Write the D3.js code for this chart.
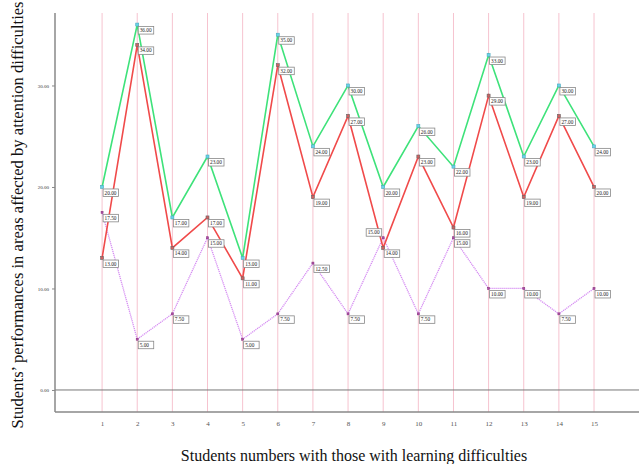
<!DOCTYPE html>
<html>
<head>
<meta charset="utf-8">
<script src="https://cdn.jsdelivr.net/npm/d3@7"></script>
<style>
  body { margin: 0; background: #fff; }
  svg { display: block; }
</style>
</head>
<body>
<svg id="chart" width="639" height="464"></svg>
<script>
// data
var students = [1, 2, 3, 4, 5, 6, 7, 8, 9, 10, 11, 12, 13, 14, 15];
var greenVals = [20, 36, 17, 23, 13, 35, 24, 30, 20, 26, 22, 33, 23, 30, 24];
var redVals = [13, 34, 14, 17, 11, 32, 19, 27, 14, 23, 16, 29, 19, 27, 20];
var purpleVals = [17.5, 5, 7.5, 15, 5, 7.5, 12.5, 7.5, 15, 7.5, 15, 10, 10, 7.5, 10];
var yTicks = [0, 10, 20, 30];

var svg = d3.select("#chart");

// scales
var x = d3.scaleLinear().domain([-0.34, 16.28]).range([55, 639]);
var y = d3.scaleLinear().domain([-2.17, 37.14]).range([412, 13]);

// pink vertical grid lines at each student
svg.append("g")
  .selectAll("line")
  .data(students)
  .enter()
  .append("line")
  .attr("x1", function(d) { return x(d); })
  .attr("x2", function(d) { return x(d); })
  .attr("y1", y.range()[1])
  .attr("y2", y.range()[0])
  .attr("stroke", "#f6c3cf")
  .attr("stroke-width", 1);

// zero reference line
svg.append("line")
  .attr("x1", x.range()[0]).attr("x2", x.range()[1])
  .attr("y1", y(0)).attr("y2", y(0))
  .attr("stroke", "#777").attr("stroke-width", 1);

// y axis
var yAxis = svg.append("g")
  .attr("transform", "translate(" + x.range()[0] + ",0)")
  .call(d3.axisLeft(y).tickValues(yTicks).tickSize(3).tickFormat(d3.format(".2f")));
yAxis.select(".domain").attr("stroke", "#888").attr("stroke-width", 1.5)
  .attr("d", "M0," + y.range()[1] + "V" + y.range()[0]);
yAxis.selectAll(".tick line").attr("stroke", "#888");
yAxis.selectAll("text")
  .attr("x", -6)
  .style("font-family", "Liberation Serif")
  .style("font-size", "5px")
  .attr("fill", "#333");

// x axis
var xAxis = svg.append("g")
  .attr("transform", "translate(0," + y.range()[0] + ")")
  .call(d3.axisBottom(x).tickValues(students).tickSize(0).tickFormat(d3.format("d")));
xAxis.select(".domain").attr("stroke", "#888").attr("stroke-width", 1.5)
  .attr("d", "M" + x.range()[0] + ",0H" + x.range()[1]);
xAxis.selectAll("text")
  .attr("y", 9)
  .style("font-family", "Liberation Serif")
  .style("font-size", "7px")
  .attr("fill", "#555");

// lines
function drawSeries(vals, color, width, dash) {
  var line = d3.line()
    .x(function(d, i) { return x(students[i]); })
    .y(function(d) { return y(d); });
  svg.append("path")
    .datum(vals)
    .attr("d", line)
    .attr("fill", "none")
    .attr("stroke", color)
    .attr("stroke-width", width)
    .attr("stroke-dasharray", dash);
}

drawSeries(purpleVals, "#d58cf2", 1.3, "1.2,0.8");
drawSeries(redVals, "#f04a4a", 1.6, null);
drawSeries(greenVals, "#3ee27a", 1.6, null);

// markers
function drawMarkers(vals, fill, stroke, size) {
  svg.append("g")
    .selectAll("rect")
    .data(vals)
    .enter()
    .append("rect")
    .attr("x", function(d, i) { return x(students[i]) - size / 2; })
    .attr("y", function(d) { return y(d) - size / 2; })
    .attr("width", size)
    .attr("height", size)
    .attr("fill", fill)
    .attr("stroke", stroke)
    .attr("stroke-width", 0.6);
}

drawMarkers(purpleVals, "#b04aa8", "#8a3a80", 2);
drawMarkers(redVals, "#d06060", "#666", 3);
drawMarkers(greenVals, "#6ad4e8", "#4aa8c0", 3);

// value labels in little boxes
function drawLabels(vals, leftIdx) {
  var g = svg.append("g");
  vals.forEach(function(d, i) {
    var left = leftIdx.indexOf(i) >= 0;
    var bx = left ? x(students[i]) - 17 : x(students[i]) + 1;
    var by = left ? y(d) - 9 : y(d) + 2;
    g.append("rect")
      .attr("x", bx).attr("y", by)
      .attr("width", 15.5).attr("height", 7.5)
      .attr("fill", "#fff")
      .attr("stroke", "#888")
      .attr("stroke-width", 0.8);
    g.append("text")
      .attr("x", bx + 1.5).attr("y", by + 5.6)
      .style("font-family", "Liberation Serif")
      .style("font-size", "5.3px")
      .attr("fill", "#222")
      .text(d3.format(".2f")(d));
  });
}

drawLabels(purpleVals, [8]);
drawLabels(redVals, []);
drawLabels(greenVals, []);

// axis titles
svg.append("text")
  .attr("x", 354)
  .attr("y", 461)
  .attr("text-anchor", "middle")
  .style("font-family", "Liberation Serif")
  .style("font-size", "16px")
  .attr("fill", "#111")
  .text("Students numbers with those with learning difficulties");

svg.append("text")
  .attr("transform", "translate(23,215) rotate(-90)")
  .attr("text-anchor", "middle")
  .style("font-family", "Liberation Serif")
  .style("font-size", "16.6px")
  .attr("fill", "#111")
  .text("Students’ performances in areas affected by attention difficulties");
</script>
</body>
</html>
